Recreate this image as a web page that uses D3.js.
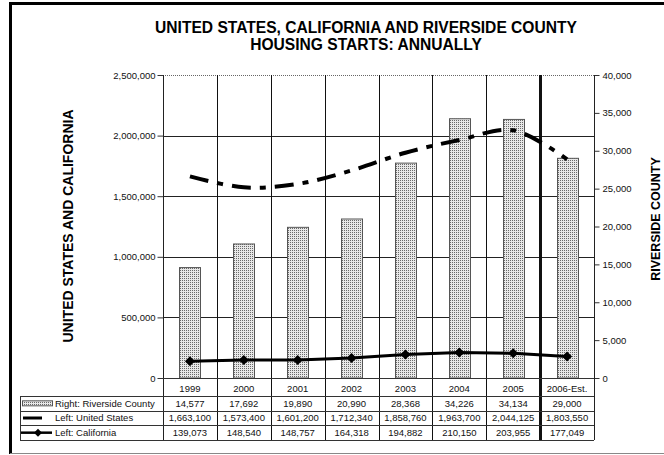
<!DOCTYPE html>
<html>
<head>
<meta charset="utf-8">
<script src="https://cdn.jsdelivr.net/npm/d3@7"></script>
<style>
  html, body { margin: 0; padding: 0; background: #fff; }
  svg { display: block; font-family: "Liberation Sans", Arial, sans-serif; }
</style>
</head>
<body>
<svg id="chart" width="664" height="455"></svg>
<script>
// Housing starts by year
const years = ["1999", "2000", "2001", "2002", "2003", "2004", "2005", "2006-Est."];
const riverside = [14577, 17692, 19890, 20990, 28368, 34226, 34134, 29000];
const unitedStates = [1663100, 1573400, 1601200, 1712340, 1858760, 1963700, 2044125, 1803550];
const california = [139073, 148540, 148757, 164318, 194882, 210150, 203955, 177049];

const leftTicks = [0, 500000, 1000000, 1500000, 2000000, 2500000];
const rightTicks = [0, 5000, 10000, 15000, 20000, 25000, 30000, 35000, 40000];
const rowLabels = ["Right: Riverside County", "Left: United States", "Left: California"];

const svg = d3.select("#chart");
const plot = { left: 163, right: 594, top: 75, bottom: 378 };
const table = { labelBottom: 396, rowH: 14.67, legendLeft: 20 };
const tableBottom = table.labelBottom + 3 * table.rowH;

const x = d3.scaleBand().domain(years).range([plot.left, plot.right]).padding(0);
const yL = d3.scaleLinear().domain([0, 2500000]).range([plot.bottom, plot.top]);
const yR = d3.scaleLinear().domain([0, 40000]).range([plot.bottom, plot.top]);
const fmt = d3.format(",");
const cx = d => x(d) + x.bandwidth() / 2;

// stipple fill used for the county bars
const defs = svg.append("defs");
const pat = defs.append("pattern").attr("id", "stipple")
  .attr("patternUnits", "userSpaceOnUse").attr("width", 2).attr("height", 2);
pat.append("rect").attr("width", 2).attr("height", 2).attr("fill", "#e8e8e8");
pat.append("rect").attr("width", 1).attr("height", 1).attr("fill", "#6a6a6a");

// outer frame
svg.append("path").attr("d", "M10.5,454 V3.5 H664")
  .attr("fill", "none").attr("stroke", "#000").attr("stroke-width", 3);
svg.append("line").attr("x1", 10).attr("x2", 664).attr("y1", 453.5).attr("y2", 453.5)
  .attr("stroke", "#888").attr("stroke-width", 1);

// titles
svg.append("text").attr("x", 366).attr("y", 33).attr("text-anchor", "middle")
  .attr("font-weight", "bold").attr("font-size", 15.6)
  .text("UNITED STATES, CALIFORNIA AND RIVERSIDE COUNTY");
svg.append("text").attr("x", 366).attr("y", 50).attr("text-anchor", "middle")
  .attr("font-weight", "bold").attr("font-size", 15.6)
  .text("HOUSING STARTS: ANNUALLY");
svg.append("text").attr("transform", "translate(73,226) rotate(-90)")
  .attr("text-anchor", "middle").attr("font-weight", "bold").attr("font-size", 14)
  .text("UNITED STATES AND CALIFORNIA");
svg.append("text").attr("transform", "translate(660,219) rotate(-90)")
  .attr("text-anchor", "middle").attr("font-weight", "bold").attr("font-size", 12.5)
  .text("RIVERSIDE COUNTY");

// horizontal gridlines (left scale)
svg.append("g").selectAll("line").data(leftTicks.filter(d => d > 0)).join("line")
  .attr("x1", plot.left).attr("x2", plot.right)
  .attr("y1", d => Math.round(yL(d)) + 0.5).attr("y2", d => Math.round(yL(d)) + 0.5)
  .attr("stroke", d => d === 2500000 ? "#666" : "#222")
  .attr("stroke-dasharray", d => d === 2500000 ? "1,1" : null);

// bars (right scale)
const barW = 21;
svg.append("g").selectAll("rect").data(years).join("rect")
  .attr("x", d => Math.round(cx(d) - barW / 2) + 0.5)
  .attr("width", barW)
  .attr("y", (d, i) => yR(riverside[i]))
  .attr("height", (d, i) => plot.bottom - yR(riverside[i]))
  .attr("fill", "url(#stipple)").attr("stroke", "#555").attr("stroke-width", 1);

// vertical category dividers through plot and table
const bounds = d3.range(1, years.length).map(i => plot.left + i * x.bandwidth());
svg.append("g").selectAll("line").data(bounds).join("line")
  .attr("x1", d => Math.round(d) + 0.5).attr("x2", d => Math.round(d) + 0.5)
  .attr("y1", plot.top).attr("y2", tableBottom)
  .attr("stroke", "#111")
  .attr("stroke-width", (d, i) => i === years.length - 2 ? 3 : 1);

// United States line
const usLine = d3.line().x((d, i) => cx(years[i])).y(d => yL(d)).curve(d3.curveCatmullRom);
svg.append("path").datum(unitedStates).attr("d", usLine)
  .attr("fill", "none").attr("stroke", "#000").attr("stroke-width", 4)
  .attr("stroke-dasharray", "19,9,6,9");

// California line with diamond markers
const caLine = d3.line().x((d, i) => cx(years[i])).y(d => yL(d));
svg.append("path").datum(california).attr("d", caLine)
  .attr("fill", "none").attr("stroke", "#000").attr("stroke-width", 3);
const diamond = d3.symbol(d3.symbolSquare, 50);
svg.append("g").selectAll("path").data(california).join("path")
  .attr("d", diamond)
  .attr("transform", (d, i) => `translate(${cx(years[i])},${yL(d)}) rotate(45)`)
  .attr("fill", "#000");

// axes
const axisL = svg.append("g").attr("transform", `translate(${plot.left + 0.5},0)`)
  .call(d3.axisLeft(yL).tickValues(leftTicks).tickFormat(fmt).tickSize(6).tickPadding(2));
const axisR = svg.append("g").attr("transform", `translate(${plot.right + 0.5},0)`)
  .call(d3.axisRight(yR).tickValues(rightTicks).tickFormat(fmt).tickSize(5).tickPadding(3));
[axisL, axisR].forEach(g => {
  g.select(".domain").remove();
  g.selectAll("text").attr("font-family", "Liberation Sans, Arial, sans-serif")
    .attr("font-size", 9.5).attr("fill", "#111");
  g.selectAll(".tick line").attr("stroke", "#333");
});
[plot.left, plot.right].forEach(px => {
  svg.append("line").attr("x1", px + 0.5).attr("x2", px + 0.5)
    .attr("y1", plot.top).attr("y2", tableBottom).attr("stroke", "#222");
});

// data table
const tg = svg.append("g").attr("font-size", 9.5).attr("fill", "#111");
const hLines = [plot.bottom, table.labelBottom, table.labelBottom + table.rowH,
  table.labelBottom + 2 * table.rowH, tableBottom];
tg.selectAll("line.h").data(hLines).join("line").attr("class", "h")
  .attr("x1", (d, i) => i === 0 ? plot.left : table.legendLeft).attr("x2", plot.right)
  .attr("y1", d => Math.round(d) + 0.5).attr("y2", d => Math.round(d) + 0.5)
  .attr("stroke", "#333");
tg.append("line").attr("x1", table.legendLeft + 0.5).attr("x2", table.legendLeft + 0.5)
  .attr("y1", table.labelBottom).attr("y2", tableBottom).attr("stroke", "#333");

tg.selectAll("text.yr").data(years).join("text").attr("class", "yr")
  .attr("x", d => cx(d)).attr("y", 389).attr("dy", "0.35em")
  .attr("text-anchor", "middle").text(d => d);

const rows = [riverside, unitedStates, california];
rows.forEach((vals, r) => {
  const yc = table.labelBottom + (r + 0.5) * table.rowH;
  tg.selectAll(`text.r${r}`).data(vals).join("text").attr("class", `r${r}`)
    .attr("x", (d, i) => cx(years[i])).attr("y", yc).attr("dy", "0.35em")
    .attr("text-anchor", "middle").text(d => fmt(d));
  tg.append("text").attr("x", 55).attr("y", yc).attr("dy", "0.35em").text(rowLabels[r]);
});

// legend keys inside the table
const ly = r => table.labelBottom + (r + 0.5) * table.rowH;
tg.append("rect").attr("x", 22.5).attr("y", ly(0) - 2.5).attr("width", 30).attr("height", 5)
  .attr("fill", "url(#stipple)").attr("stroke", "#555");
tg.append("line").attr("x1", 23).attr("x2", 42).attr("y1", ly(1)).attr("y2", ly(1))
  .attr("stroke", "#000").attr("stroke-width", 3);
tg.append("line").attr("x1", 21).attr("x2", 52).attr("y1", ly(2)).attr("y2", ly(2))
  .attr("stroke", "#000").attr("stroke-width", 2.5);
tg.append("path").attr("d", d3.symbol(d3.symbolSquare, 32))
  .attr("transform", `translate(38,${ly(2)}) rotate(45)`).attr("fill", "#000");
</script>
</body>
</html>
